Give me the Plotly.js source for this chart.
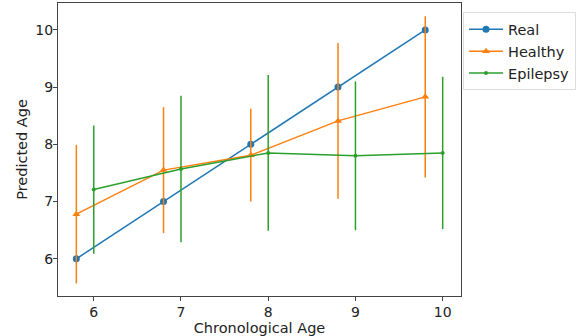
<!DOCTYPE html>
<html><head><meta charset="utf-8">
<script src="https://cdn.plot.ly/plotly-3.0.1.min.js"></script>
<style>html,body{margin:0;padding:0;background:#fff}#chart{width:580px;height:336px}</style>
</head><body><div id="chart"></div>
<script>
var realX = [5.8, 6.8, 7.8, 8.8, 9.8];
var realY = [6, 7, 8, 9, 10];
var realErr = [0, 0, 0, 0, 0];
var healthyX = [5.8, 6.8, 7.8, 8.8, 9.8];
var healthyY = [6.78, 7.55, 7.81, 8.41, 8.83];
var healthyErr = [1.21, 1.1, 0.81, 1.36, 1.41];
var epilepsyX = [6, 7, 8, 9, 10];
var epilepsyY = [7.21, 7.57, 7.85, 7.80, 7.85];
var epilepsyErr = [1.12, 1.28, 1.36, 1.3, 1.33];

var font = "DejaVu Sans, sans-serif";
function tr(name, x, y, e, color, sym, size) {
  return {type: 'scatter', mode: 'lines+markers', name: name, x: x, y: y,
    line: {color: color, width: 1.5},
    marker: {color: color, symbol: sym, size: size},
    error_y: {type: 'data', array: e, visible: true, color: color, thickness: 1.5, width: 0}};
}
var data = [
  tr('Real', realX, realY, realErr, '#1f77b4', 'circle', 7),
  tr('Healthy', healthyX, healthyY, healthyErr, '#ff7f0e', 'triangle-up', 7),
  tr('Epilepsy', epilepsyX, epilepsyY, epilepsyErr, '#2ca02c', 'circle', 4)
];
var axisCommon = {showgrid: false, zeroline: false, showline: true, mirror: true,
  linecolor: '#444', linewidth: 1, ticks: 'outside', ticklen: 4, tickcolor: '#444',
  tickfont: {family: font, size: 14, color: '#222'}};
var layout = {
  width: 580, height: 336,
  margin: {l: 58, r: 119, t: 3, b: 40},
  paper_bgcolor: '#fff', plot_bgcolor: '#fff',
  showlegend: true,
  legend: {x: 1.005, y: 0.968, xanchor: 'left', yanchor: 'top',
    bordercolor: '#ddd', borderwidth: 1, font: {family: font, size: 14.5, color: '#222'},
    tracegroupgap: 0, itemwidth: 34},
  xaxis: Object.assign({}, axisCommon, {range: [5.59, 10.21], tickvals: [6, 7, 8, 9, 10],
    ticklabelstandoff: -1,
    title: {text: 'Chronological Age', font: {family: font, size: 14.5, color: '#222'}, standoff: 1}}),
  yaxis: Object.assign({}, axisCommon, {range: [5.35, 10.47], tickvals: [6, 7, 8, 9, 10],
    ticklabelstandoff: -3,
    title: {text: 'Predicted Age', font: {family: font, size: 14.5, color: '#222'}, standoff: 4}})
};
Plotly.newPlot('chart', data, layout, {displayModeBar: false, staticPlot: true});
</script></body></html>
